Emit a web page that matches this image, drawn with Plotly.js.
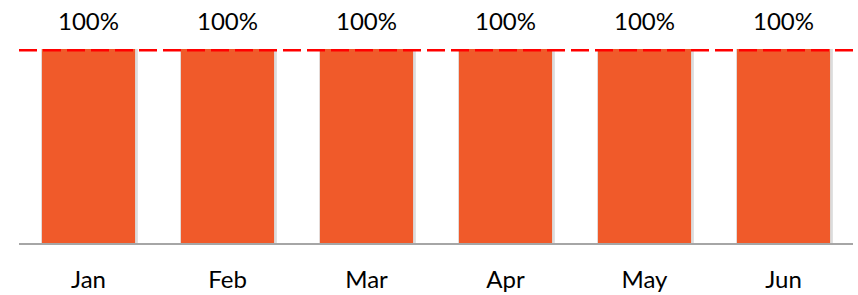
<!DOCTYPE html>
<html><head><meta charset="utf-8">
<script src="https://cdn.plot.ly/plotly-3.0.1.min.js"></script>
<style>html,body{margin:0;padding:0;background:#fff;}</style>
</head><body>
<div id="chart" style="width:858px;height:295px;"></div>
<script>
const months = ["Jan","Feb","Mar","Apr","May","Jun"];
const values = [1, 1, 1, 1, 1, 1];
const labels = ["100%","100%","100%","100%","100%","100%"];
const target = 1;

const shadow = {
  type: "bar", x: months, y: values, width: 0.695, offset: -0.34,
  marker: {color: "rgba(140,140,140,0.3)"}, hoverinfo: "skip", showlegend: false
};
const bars = {
  type: "bar", x: months, y: values, width: 0.67, offset: -0.335,
  marker: {color: "#F05A2A"}, showlegend: false
};
const layout = {
  width: 858, height: 295,
  margin: {l: 19, r: 5, t: 49, b: 52},
  paper_bgcolor: "#fff", plot_bgcolor: "#fff",
  barmode: "overlay",
  font: {family: "Lato, 'Open Sans', sans-serif", size: 24, color: "#000"},
  xaxis: {type: "category", showline: true, linecolor: "#A6A6A6", linewidth: 1.5,
    ticks: "outside", ticklen: 15, tickcolor: "rgba(0,0,0,0)", showgrid: false,
    tickfont: {size: 24, color: "#000"}, fixedrange: true},
  yaxis: {range: [0, 1], visible: false, showgrid: false, zeroline: false, fixedrange: true},
  shapes: [{type: "line", xref: "paper", x0: 0, x1: 1, yref: "y", y0: target, y1: target,
    line: {color: "#FF0000", width: 5, dash: "18px,6px"}, layer: "above"}],
  annotations: months.map((m, i) => ({x: m, y: values[i], text: labels[i], showarrow: false,
    yanchor: "bottom", yshift: 12, font: {size: 24, color: "#000"}}))
};
Plotly.newPlot("chart", [shadow, bars], layout, {staticPlot: true, displayModeBar: false});
</script>
</body></html>
